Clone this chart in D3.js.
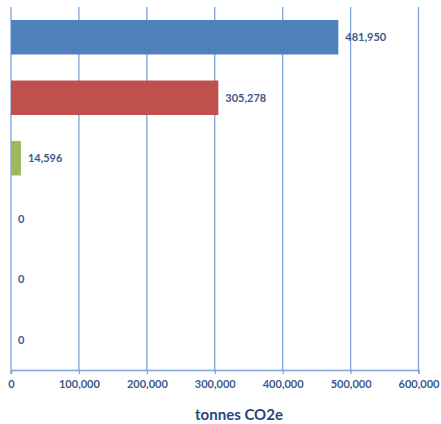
<!DOCTYPE html>
<html>
<head>
<meta charset="utf-8">
<script src="https://cdn.jsdelivr.net/npm/d3@7"></script>
<style>
  html, body { margin: 0; padding: 0; background: #fff; }
  svg text { font-family: Lato, "Open Sans", sans-serif; font-weight: bold; }
</style>
</head>
<body>
<svg id="chart" width="441" height="424"></svg>
<script>
// Emissions per source, tonnes CO2e
const categories = ["A", "B", "C", "D", "E", "F"];
const values = [481950, 305278, 14596, 0, 0, 0];
const barColors = ["#4F81BD", "#C0504D", "#9BBB59", "#4F81BD", "#4F81BD", "#4F81BD"];
const tickValues = [0, 100000, 200000, 300000, 400000, 500000, 600000];
const axisTitle = "tonnes CO2e";

(function () {
  const svg = d3.select("#chart");
  const plotLeft = 11, plotRight = 418.5, plotTop = 7, plotBottom = 370;
  const textColor = "#3A5A8C";
  const gridColor = "#7DA3D8";

  const x = d3.scaleLinear().domain([0, 600000]).range([plotLeft, plotRight]);
  const y = d3.scaleBand().domain(categories).range([plotTop, plotBottom]).paddingInner(0.43).paddingOuter(0.215);

  const fmt = d3.format(",");

  // vertical gridlines
  svg.append("g").selectAll("line")
    .data(tickValues.slice(1))
    .join("line")
    .attr("x1", d => x(d)).attr("x2", d => x(d))
    .attr("y1", plotTop).attr("y2", plotBottom)
    .attr("stroke", gridColor).attr("stroke-width", 1.3);

  // value axis at bottom
  const axis = d3.axisBottom(x).tickValues(tickValues).tickFormat(fmt).tickSize(4).tickPadding(6);
  const gAxis = svg.append("g").attr("transform", `translate(0,${plotBottom})`).call(axis);
  gAxis.select(".domain").attr("stroke", gridColor).attr("stroke-width", 1.3);
  gAxis.selectAll(".tick line").attr("stroke", gridColor).attr("stroke-width", 1.3);
  gAxis.selectAll(".tick text").attr("fill", textColor).attr("font-size", 11);

  // category axis line on the left
  svg.append("line")
    .attr("x1", x(0)).attr("x2", x(0)).attr("y1", plotTop).attr("y2", plotBottom + 4)
    .attr("stroke", gridColor).attr("stroke-width", 1.3);

  // bars
  svg.append("g").selectAll("rect")
    .data(values)
    .join("rect")
    .attr("x", x(0))
    .attr("y", (d, i) => y(categories[i]))
    .attr("width", d => x(d) - x(0))
    .attr("height", y.bandwidth())
    .attr("fill", (d, i) => barColors[i]);

  // value labels
  svg.append("g").selectAll("text")
    .data(values)
    .join("text")
    .attr("x", d => x(d) + 7)
    .attr("y", (d, i) => y(categories[i]) + y.bandwidth() / 2)
    .attr("dy", "0.35em")
    .attr("fill", textColor)
    .attr("font-size", 11)
    .text(d => fmt(d));

  // axis title
  svg.append("text")
    .attr("x", 239).attr("y", 420)
    .attr("text-anchor", "middle")
    .attr("fill", "#1F497D")
    .attr("font-size", 15)
    .text(axisTitle);
})();
</script>
</body>
</html>
